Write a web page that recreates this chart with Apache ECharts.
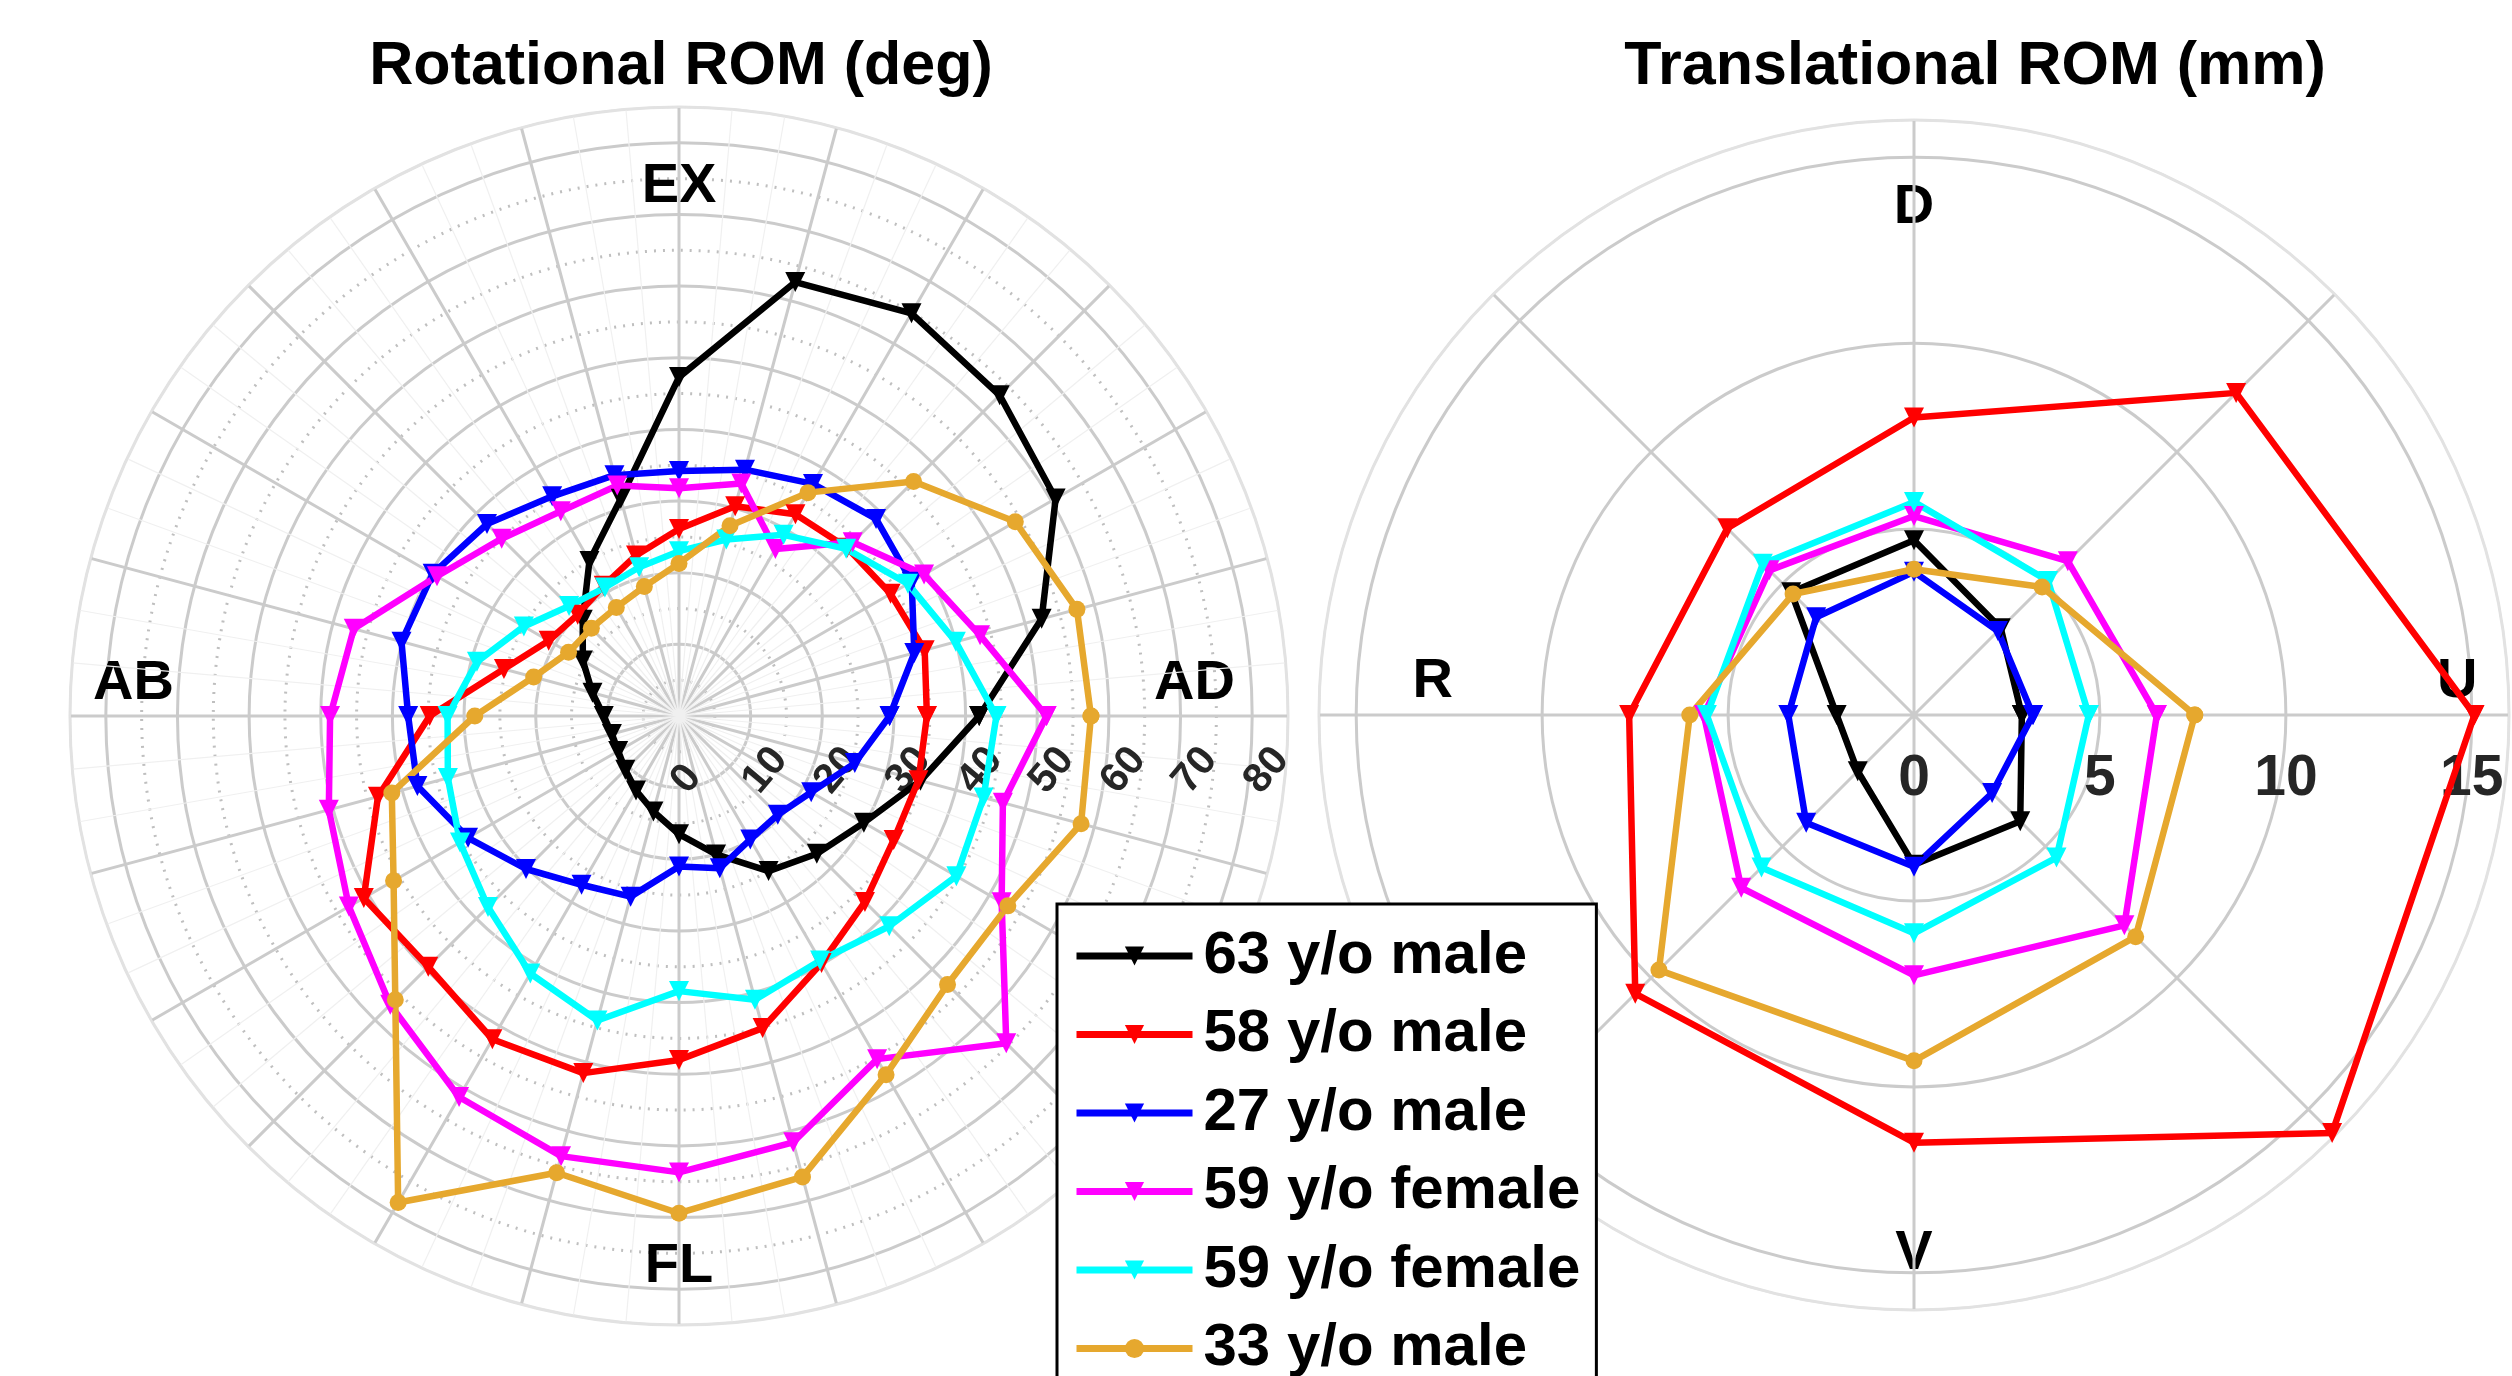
<!DOCTYPE html>
<html>
<head>
<meta charset="utf-8">
<script src="https://cdn.jsdelivr.net/npm/echarts@6/dist/echarts.min.js"></script>
<style>
html,body{margin:0;padding:0;background:#fff;}
#chart{width:2512px;height:1376px;}
</style>
</head>
<body>
<div id="chart"></div>
<script>
// ---------------- data ----------------
const seriesNames = ['63 y/o male', '58 y/o male', '27 y/o male', '59 y/o female', '59 y/o female\u200b', '33 y/o male'];
const seriesColors = ['#000000', '#FF0000', '#0000FF', '#FF00FF', '#00FFFF', '#E6A82E'];

// Rotational ROM (deg): angle 0 = AD, 90 = EX, 180 = AB, 270 = FL
const rotAngles = [0, 15, 30, 45, 60, 75, 90, 105, 120, 135, 150, 165, 180, 195, 210, 225, 240, 255, 270, 285, 300, 315, 330, 345];
const rot63M  = [41.9, 52.4, 60.7, 63.3, 64.9, 62.7, 47.3, 31.4, 25.0, 19.0, 15.5, 12.5, 10.5, 9.7, 9.8, 10.6, 12.0, 13.8, 16.5, 20.0, 25.0, 27.2, 29.8, 34.9];
const rot58M  = [34.6, 35.5, 34.1, 33.2, 32.5, 30.3, 26.1, 23.2, 21.0, 20.0, 21.0, 25.3, 34.8, 43.5, 50.8, 49.5, 52.1, 51.6, 48.0, 45.1, 39.8, 36.7, 34.6, 34.6];
const rot27M  = [29.4, 34.0, 37.5, 38.9, 37.4, 35.6, 34.2, 34.8, 35.4, 37.9, 39.7, 40.1, 37.8, 37.8, 34.0, 30.2, 27.2, 26.1, 21.0, 22.0, 19.9, 19.5, 21.3, 25.4];
const rot59F1 = [51.3, 43.5, 39.5, 34.3, 26.9, 33.6, 31.8, 33.3, 33.0, 35.0, 39.0, 47.0, 48.7, 50.6, 53.2, 57.0, 61.4, 63.6, 63.7, 61.6, 55.3, 64.6, 52.0, 46.8];
const rot59F2 = [44.3, 40.0, 36.9, 33.0, 29.2, 25.5, 23.0, 21.5, 20.7, 21.7, 25.0, 29.2, 32.3, 33.4, 35.3, 37.7, 41.5, 44.0, 38.4, 41.0, 39.4, 41.5, 44.7, 44.0];
const rot33M  = [57.5, 57.5, 54.2, 46.3, 36.0, 27.5, 21.3, 18.7, 17.5, 17.3, 17.8, 21.0, 28.5, 41.5, 46.0, 56.0, 78.4, 66.0, 69.4, 66.6, 57.8, 53.0, 53.0, 58.1];
const rotDirAngles = [0, 90, 180, 270];
const rotDirNames = ['AD', 'EX', 'AB', 'FL'];
const rotTicks = [0, 10, 20, 30, 40, 50, 60, 70, 80];

// Translational ROM (mm): angle 0 = U, 90 = D, 180 = R, 270 = V
const traAngles = [0, 45, 90, 135, 180, 225, 270, 315];
const tra63M  = [2.9, 3.3, 4.7, 4.67, 2.08, 2.14, 4.03, 4.04];
const tra58M  = [15.07, 12.25, 8.0, 7.1, 7.66, 10.6, 11.5, 15.9];
const tra27M  = [3.2, 3.19, 3.85, 3.72, 3.38, 4.1, 4.08, 2.97];
const tra59F1 = [6.53, 5.85, 5.35, 5.5, 5.65, 6.57, 7.0, 8.0];
const tra59F2 = [4.7, 5.1, 5.73, 5.75, 5.57, 5.8, 5.87, 5.42];
const tra33M  = [7.55, 4.87, 3.92, 4.6, 6.03, 9.7, 9.3, 8.43];
const traDirAngles = [0, 90, 180, 270];
const traDirNames = ['U', 'D', 'R', 'V'];
const traTicks = [0, 5, 10, 15];

// ---------------- chart ----------------
const FONT = 'Liberation Sans, Arial, Helvetica, sans-serif';
const GRID = '#cbcbcb';
const EDGE = '#e2e2e2';
const MINOR = '#bfbfbf';
const rotValues = [rot63M, rot58M, rot27M, rot59F1, rot59F2, rot33M];
const traValues = [tra63M, tra58M, tra27M, tra59F1, tra59F2, tra33M];

function loop(angles, vals) {
  const d = angles.map((a, k) => [vals[k], a]);
  d.push([vals[0], 360]);
  return d;
}

const series = [];
function addSeries(values, angles, polarIndex) {
  values.forEach((vals, i) => {
    const isCircle = i === 5;
    series.push({
      type: 'line',
      name: seriesNames[i],
      coordinateSystem: 'polar',
      polarIndex: polarIndex,
      data: loop(angles, vals),
      symbol: isCircle ? 'circle' : 'triangle',
      symbolRotate: isCircle ? 0 : 180,
      symbolSize: isCircle ? 17 : 20,
      showAllSymbol: true,
      lineStyle: { width: 6.5, color: seriesColors[i] },
      itemStyle: { color: seriesColors[i] },
      emphasis: { disabled: true },
      z: 3
    });
  });
}
addSeries(rotValues, rotAngles, 0);
addSeries(traValues, traAngles, 1);

function dirLabelFormatter(angles, names) {
  return function (v) {
    const k = angles.indexOf(v);
    return k < 0 ? '' : '{d' + k + '|' + names[k] + '}';
  };
}
function richStyles(pads) {
  const r = {};
  pads.forEach((p, k) => {
    r['d' + k] = { fontSize: 56, fontWeight: 'bold', color: '#000', fontFamily: FONT, padding: p };
  });
  return r;
}
// circle colours: every tick circle solid grey, the outer edge circle faint
function circleColors(tickCount) {
  const c = [];
  for (let i = 0; i < tickCount; i++) c.push(GRID);
  c.push(EDGE);
  return c;
}

const option = {
  animation: false,
  backgroundColor: '#fff',
  title: [
    { text: 'Rotational ROM (deg)', left: 676, top: 32, textAlign: 'center',
      textStyle: { fontSize: 61, fontWeight: 'bold', color: '#000', fontFamily: FONT } },
    { text: 'Translational ROM (mm)', left: 1970, top: 32, textAlign: 'center',
      textStyle: { fontSize: 61, fontWeight: 'bold', color: '#000', fontFamily: FONT } }
  ],
  legend: {
    data: seriesNames,
    orient: 'vertical',
    left: 1057, top: 904,
    height: 560,
    backgroundColor: '#fff',
    borderColor: '#000', borderWidth: 3,
    padding: [22, 16, 22, 16],
    itemWidth: 116, itemHeight: 24, itemGap: 18.5,
    lineStyle: { width: 7 },
    formatter: n => n.replace('\u200b', ''),
    textStyle: { fontSize: 60, fontWeight: 'bold', color: '#000', fontFamily: FONT, padding: [0, 0, 0, 6] },
    z: 10
  },
  polar: [
    { center: [679, 716], radius: 609 },
    { center: [1914, 715], radius: 595 }
  ],
  angleAxis: [
    {
      polarIndex: 0, type: 'value', min: 0, max: 360, interval: 15,
      startAngle: 0, clockwise: false,
      axisLine: { show: true, lineStyle: { color: EDGE, width: 2 } },
      axisTick: { show: false },
      axisLabel: {
        show: true, margin: -134,
        formatter: dirLabelFormatter(rotDirAngles, rotDirNames),
        rich: richStyles([[0, 0, 64, 0], [0, 0, 26, 0], [0, 30, 64, 0], [48, 0, 0, 0]])
      },
      splitLine: { show: true, lineStyle: { color: GRID, width: 3 } },
      minorTick: { show: false, splitNumber: 3 },
      minorSplitLine: { show: true, lineStyle: { color: '#f0f0f0', width: 1.2 } }
    },
    {
      polarIndex: 1, type: 'value', min: 0, max: 360, interval: 45,
      startAngle: 0, clockwise: false,
      axisLine: { show: true, lineStyle: { color: EDGE, width: 2 } },
      axisTick: { show: false },
      axisLabel: {
        show: true, margin: -134,
        formatter: dirLabelFormatter(traDirAngles, traDirNames),
        rich: richStyles([[0, 0, 66, 62], [0, 0, 18, 0], [0, 0, 66, 0], [50, 0, 0, 0]])
      },
      splitLine: { show: true, lineStyle: { color: GRID, width: 3 } }
    }
  ],
  radiusAxis: [
    {
      polarIndex: 0, type: 'value', min: 0, max: 85, interval: 10,
      axisLine: { show: false }, axisTick: { show: false },
      axisLabel: {
        show: true, showMaxLabel: false, rotate: 50, margin: -72,
        color: '#262626', fontSize: 41, fontWeight: 'bold', fontFamily: FONT,
        formatter: v => (rotTicks.indexOf(v) < 0 ? '' : String(v))
      },
      splitLine: { show: true, lineStyle: { color: circleColors(rotTicks.length), width: 3 } },
      minorTick: { show: false, splitNumber: 2 },
      minorSplitLine: { show: true, lineStyle: { color: MINOR, width: 3, type: [2, 7] } }
    },
    {
      polarIndex: 1, type: 'value', min: 0, max: 16, interval: 5,
      axisLine: { show: false }, axisTick: { show: false },
      axisLabel: {
        show: true, showMaxLabel: false, margin: -93,
        color: '#262626', fontSize: 57, fontWeight: 'bold', fontFamily: FONT,
        formatter: v => (traTicks.indexOf(v) < 0 ? '' : String(v))
      },
      splitLine: { show: true, lineStyle: { color: circleColors(traTicks.length), width: 3 } }
    }
  ],
  series: series
};

const chart = echarts.init(document.getElementById('chart'), null, { renderer: 'canvas' });
chart.setOption(option);
</script>
</body>
</html>
